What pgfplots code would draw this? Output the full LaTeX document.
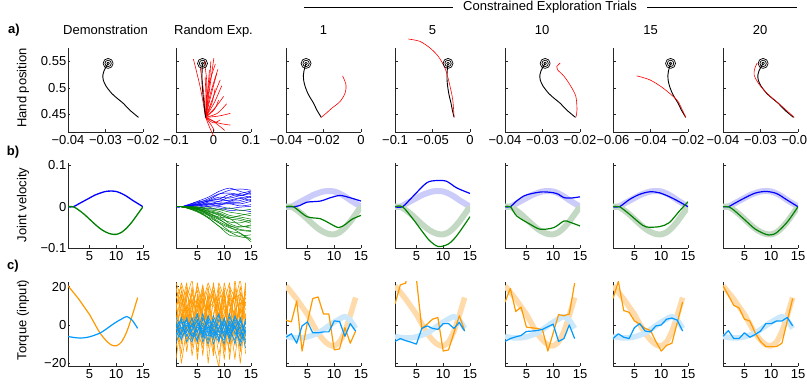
\documentclass[border=0pt]{standalone}
\usepackage{pgfplots}
\pgfplotsset{compat=1.18}
\usepackage{pgfplotstable}
\usepackage{fontspec}
\setmainfont{Liberation Sans}

\definecolor{vblue}{rgb}{0,0,1}
\definecolor{vgreen}{rgb}{0,0.5,0}
\definecolor{lvblue}{rgb}{0.8,0.8,0.98}
\definecolor{lvgreen}{rgb}{0.77,0.85,0.77}
\definecolor{torng}{rgb}{1,0.6,0}
\definecolor{tblue}{rgb}{0,0.6,1}
\definecolor{ltorng}{rgb}{1,0.86,0.67}
\definecolor{ltblue}{rgb}{0.8,0.91,0.98}

\pgfplotstableread{
x y
-0.0212 0.4445
-0.0235 0.4580
-0.0253 0.4711
-0.0270 0.4810
-0.0284 0.4900
-0.0299 0.5038
-0.0306 0.5150
-0.0307 0.5245
-0.0304 0.5320
-0.0299 0.5390
-0.0293 0.5460
}\demotraj

\pgfplotstableread{
t b g
1 0 0
2 0 0
3 0.007 -0.008
4 0.014 -0.018
5 0.021 -0.030
6 0.028 -0.042
7 0.033 -0.053
8 0.037 -0.061
9 0.038 -0.066
10 0.037 -0.067
11 0.032 -0.062
12 0.025 -0.051
13 0.016 -0.036
14 0.008 -0.018
15 0 0
}\demovel

\pgfplotstableread{
t o c
1 20.4 -6.0
2 17.0 -6.5
3 13.5 -6.8
4 9.5 -6.7
5 5.5 -6.2
6 0.5 -5.3
7 -4.3 -4.2
8 -7.8 -2.4
9 -10.3 -0.4
10 -10.9 1.5
11 -8.8 3.1
12 -3.3 4.4
13 5.0 2.4
14 14.3 -1.8
}\demotorque

\pgfplotsset{
  panel/.style={scale only axis, width=75pt, anchor=south west, axis lines=left,
    axis line style={-, line width=0.8pt, black!85},
    tick align=inside, major tick length=2.5pt,
    tick style={line width=0.6pt, black!85},
    scaled ticks=false,
    tick label style={font=\fontsize{13}{15}\selectfont},
    yticklabel style={inner xsep=1.5pt},
    every axis plot/.append style={line join=round}},
  rowa/.style={panel, height=84pt, ymin=0.417, ymax=0.575, ytick={0.45,0.5,0.55}, yticklabels={,,}, clip=false},
  rowb/.style={panel, height=85pt, xmin=1, xmax=15, ymin=-0.1, ymax=0.106, xtick={5,10,15}, xticklabels={5,10,15}, ytick={-0.1,0,0.1}, yticklabels={,,}},
  rowc/.style={panel, height=84pt, xmin=1, xmax=15, ymin=-21.4, ymax=22.4, xtick={5,10,15}, xticklabels={5,10,15}, ytick={-20,0,20}, yticklabels={,,}},
}

\newcommand{\target}{%
 \addplot[only marks, mark=o, mark size=5pt, mark options={line width=0.7pt, black}] coordinates {(-0.0293,0.546)};
 \addplot[only marks, mark=o, mark size=3.2pt, mark options={line width=0.7pt, black}] coordinates {(-0.0293,0.546)};
 \addplot[only marks, mark=o, mark size=1.4pt, mark options={line width=0.6pt, black}] coordinates {(-0.0293,0.546)};
}
\newcommand{\demoA}{\addplot[black, line width=0.9pt, smooth] table {\demotraj};}
\newcommand{\rl}[1]{\addplot[red, line width=0.6pt, smooth] coordinates {#1};}
\newcommand{\bl}[1]{\addplot[vblue, line width=0.5pt, smooth] coordinates {(1,0)(2,0)#1};}
\newcommand{\gl}[1]{\addplot[vgreen, line width=0.5pt, smooth] coordinates {(1,0)(2,0)#1};}
\newcommand{\ol}[1]{\addplot[torng, line width=0.6pt] coordinates {#1};}
\newcommand{\cl}[1]{\addplot[tblue, line width=0.6pt] coordinates {#1};}
\newcommand{\shadeB}{%
 \addplot[lvblue, line width=6pt, smooth] table[x=t,y=b] {\demovel};
 \addplot[lvgreen, line width=6pt, smooth] table[x=t,y=g] {\demovel};}
\newcommand{\shadeC}{%
 \addplot[ltorng, line width=5.5pt, smooth] table[x=t,y=o] {\demotorque};
 \addplot[ltblue, line width=5.5pt, smooth] table[x=t,y=c] {\demotorque};}

\begin{document}
\begin{tikzpicture}[font=\fontsize{13}{15}\selectfont]
\useasboundingbox (0,0) rectangle (807pt,387pt);

% header
\draw[line width=0.6pt] (304pt,379.7pt) -- (453pt,379.7pt);
\draw[line width=0.6pt] (647pt,379.7pt) -- (797pt,379.7pt);
\node[anchor=base] at (550pt,376.3pt) {Constrained Exploration Trials};
\node[anchor=base] at (105.5pt,352.5pt) {Demonstration};
\node[anchor=base] at (213.5pt,352.5pt) {Random Exp.};
\node[anchor=base] at (323.5pt,352.5pt) {1};
\node[anchor=base] at (432.5pt,352.5pt) {5};
\node[anchor=base] at (542pt,352.5pt) {10};
\node[anchor=base] at (650.5pt,352.5pt) {15};
\node[anchor=base] at (760pt,352.5pt) {20};
\node[font=\bfseries\fontsize{13}{15}\selectfont] at (14pt,357pt) {a)};
\node[font=\bfseries\fontsize{13}{15}\selectfont] at (13pt,235pt) {b)};
\node[font=\bfseries\fontsize{13}{15}\selectfont] at (13pt,121pt) {c)};
\node[rotate=90] at (23pt,299pt) {Hand position};
\node[rotate=90] at (23pt,182pt) {Joint velocity};
\node[rotate=90] at (23pt,67pt) {Torque (input)};

% ================= ROW A =================
\begin{axis}[rowa, at={(68pt,255pt)}, xmin=-0.04, xmax=-0.02, xtick={-0.04,-0.03,-0.02}, xticklabels={−0.04,−0.03,−0.02}, yticklabels={0.45,0.5,0.55}]
\target
\demoA
\end{axis}

\begin{axis}[rowa, at={(176pt,255pt)}, xmin=-0.1, xmax=0.1, xtick={-0.1,0,0.1}, xticklabels={−0.1,0,0.1}]
\rl{(-0.021,0.4445)(-0.035,0.50)(-0.0536,0.554)}
\rl{(-0.021,0.4445)(-0.010,0.50)(0.001,0.556)}
\rl{(-0.021,0.4445)(-0.016,0.49)(-0.0107,0.534)}
\rl{(-0.021,0.4445)(-0.006,0.488)(0.009,0.528)}
\rl{(-0.021,0.4445)(-0.001,0.482)(0.018,0.515)}
\rl{(-0.021,0.4445)(0.002,0.472)(0.022,0.504)}
\rl{(-0.021,0.4445)(0.006,0.464)(0.027,0.484)}
\rl{(-0.021,0.4445)(0.014,0.447)(0.045,0.452)}
\rl{(-0.021,0.4445)(0.000,0.434)(0.018,0.440)}
\rl{(-0.021,0.4445)(-0.006,0.430)(0.002,0.420)}
\rl{(-0.021,0.4445)(0.012,0.434)(0.045,0.430)}
\rl{(-0.021,0.4445)(-0.010,0.425)(0.000,0.410)}
\rl{(-0.021,0.4445)(-0.026,0.49)(-0.0357,0.540)}
\rl{(-0.021,0.4445)(-0.020,0.48)(-0.0223,0.521)}
\rl{(-0.021,0.4445)(-0.012,0.50)(-0.0071,0.550)}
\rl{(-0.021,0.4445)(-0.004,0.472)(0.0045,0.499)}
\rl{(-0.021,0.4445)(0.003,0.460)(0.0134,0.477)}
\rl{(-0.021,0.4445)(-0.014,0.50)(0.005,0.545)}
\rl{(-0.021,0.4445)(0.010,0.452)(0.035,0.47)}
\rl{(-0.021,0.4445)(-0.002,0.438)(0.030,0.42)}
\rl{(-0.021,0.4445)(-0.018,0.51)(-0.025,0.552)}
\rl{(-0.021,0.4445)(-0.008,0.49)(0.012,0.535)}
\target
\demoA
\end{axis}

\begin{axis}[rowa, at={(286pt,255pt)}, xmin=-0.04, xmax=0, xtick={-0.04,-0.02,0}, xticklabels={−0.04,−0.02,0}]
\target
\demoA
\rl{(-0.0212,0.4445)(-0.0180,0.4540)(-0.0156,0.4617)(-0.0112,0.4742)(-0.0085,0.4900)(-0.0080,0.5057)(-0.0098,0.5226)}
\end{axis}

\begin{axis}[rowa, at={(395pt,255pt)}, xmin=-0.1, xmax=0, xtick={-0.1,-0.05,0}, xticklabels={−0.1,−0.05,0}]
\target
\demoA
\rl{(-0.0213,0.4458)(-0.0230,0.4774)(-0.0276,0.509)(-0.0333,0.537)(-0.0422,0.559)(-0.0533,0.575)(-0.0667,0.5874)(-0.0822,0.5919)}
\end{axis}

\begin{axis}[rowa, at={(505pt,255pt)}, xmin=-0.04, xmax=-0.02, xtick={-0.04,-0.03,-0.02}, xticklabels={−0.04,−0.03,−0.02}]
\target
\demoA
\rl{(-0.0211,0.4445)(-0.0208,0.4585)(-0.0211,0.4836)(-0.0224,0.5025)(-0.0242,0.5213)(-0.0260,0.534)(-0.0262,0.540)(-0.0253,0.5466)}
\end{axis}

\begin{axis}[rowa, at={(613pt,255pt)}, xmin=-0.06, xmax=-0.02, xtick={-0.06,-0.04,-0.02}, xticklabels={−0.06,−0.04,−0.02}]
\target
\demoA
\rl{(-0.0212,0.4445)(-0.0235,0.462)(-0.0260,0.4774)(-0.0332,0.4994)(-0.0403,0.515)(-0.0474,0.5226)}
\end{axis}

\begin{axis}[rowa, at={(723pt,255pt)}, xmin=-0.04, xmax=-0.02, xtick={-0.04,-0.03,-0.02}, xticklabels={−0.04,−0.03,−0.02}]
\target
\demoA
\rl{(-0.0210,0.4445)(-0.0247,0.4679)(-0.0283,0.490)(-0.0306,0.509)(-0.0317,0.5245)(-0.0315,0.537)(-0.0309,0.5466)}
\end{axis}

% ================= ROW B =================
\begin{axis}[rowb, at={(68pt,139pt)}, yticklabels={−0.1,0,0.1}]
\addplot[vblue, line width=1.3pt, smooth] table[x=t,y=b] {\demovel};
\addplot[vgreen, line width=1.3pt, smooth] table[x=t,y=g] {\demovel};
\end{axis}

\begin{axis}[rowb, at={(176pt,139pt)}]
\bl{(3,0.004)(5,0.012)(7,0.016)(9,0.030)(11,0.040)(13,0.043)(15,0.040)}
\bl{(3,0.002)(5,0.006)(7,0.014)(9,0.018)(11,0.030)(13,0.027)(15,0.036)}
\bl{(3,0.001)(5,0.005)(7,0.006)(9,0.013)(11,0.016)(13,0.022)(15,0.024)}
\bl{(3,0.003)(5,0.010)(7,0.013)(9,0.019)(11,0.014)(13,0.020)(15,0.015)}
\bl{(3,0.000)(5,0.002)(7,0.006)(9,0.008)(11,0.010)(13,0.011)(15,0.018)}
\bl{(3,0.002)(5,0.004)(7,0.001)(9,0.005)(11,0.007)(13,0.002)(15,0.005)}
\bl{(3,-0.001)(5,-0.003)(7,0.001)(9,0.001)(11,-0.004)(13,-0.001)(15,0.001)}
\bl{(3,0.002)(5,0.009)(7,0.019)(9,0.031)(11,0.033)(13,0.029)(15,0.022)}
\bl{(3,0.001)(5,0.003)(7,0.011)(9,0.013)(11,0.024)(13,0.032)(15,0.038)}
\bl{(3,-0.002)(5,-0.005)(7,-0.005)(9,-0.003)(11,-0.009)(13,-0.008)(15,-0.012)}
\bl{(3,0.003)(5,0.013)(7,0.023)(9,0.037)(11,0.045)(13,0.037)(15,0.030)}
\bl{(3,0.000)(5,0.005)(7,0.008)(9,0.003)(11,0.013)(13,0.015)(15,0.026)}
\bl{(3,0.001)(5,-0.001)(7,0.004)(9,0.009)(11,0.008)(13,0.007)(15,0.013)}
\bl{(3,0.002)(5,0.007)(7,0.014)(9,0.023)(11,0.021)(13,0.027)(15,0.032)}
\gl{(3,-0.002)(5,-0.009)(7,-0.019)(9,-0.036)(11,-0.049)(13,-0.064)(15,-0.080)}
\gl{(3,-0.003)(5,-0.013)(7,-0.027)(9,-0.047)(11,-0.069)(13,-0.071)(15,-0.068)}
\gl{(3,-0.001)(5,-0.004)(7,-0.011)(9,-0.017)(11,-0.029)(13,-0.033)(15,-0.040)}
\gl{(3,-0.002)(5,-0.007)(7,-0.015)(9,-0.025)(11,-0.029)(13,-0.045)(15,-0.052)}
\gl{(3,0.000)(5,-0.002)(7,-0.005)(9,-0.007)(11,-0.013)(13,-0.017)(15,-0.022)}
\gl{(3,-0.001)(5,-0.003)(7,-0.001)(9,-0.007)(11,-0.003)(13,-0.009)(15,-0.006)}
\gl{(3,-0.003)(5,-0.011)(7,-0.021)(9,-0.039)(11,-0.051)(13,-0.057)(15,-0.060)}
\gl{(3,-0.002)(5,-0.006)(7,-0.013)(9,-0.021)(11,-0.041)(13,-0.049)(15,-0.046)}
\gl{(3,-0.001)(5,-0.005)(7,-0.015)(9,-0.027)(11,-0.037)(13,-0.039)(15,-0.032)}
\gl{(3,0.001)(5,0.000)(7,-0.007)(9,-0.011)(11,-0.021)(13,-0.025)(15,-0.030)}
\gl{(3,-0.002)(5,-0.010)(7,-0.025)(9,-0.039)(11,-0.059)(13,-0.065)(15,-0.085)}
\gl{(3,-0.001)(5,-0.006)(7,-0.019)(9,-0.031)(11,-0.045)(13,-0.055)(15,-0.058)}
\gl{(3,-0.002)(5,-0.004)(7,-0.009)(9,-0.015)(11,-0.025)(13,-0.029)(15,-0.036)}
\gl{(3,0.000)(5,-0.003)(7,-0.011)(9,-0.019)(11,-0.027)(13,-0.021)(15,-0.016)}
\gl{(3,-0.002)(5,-0.007)(7,-0.017)(9,-0.029)(11,-0.047)(13,-0.049)(15,-0.044)}
\gl{(3,-0.003)(5,-0.011)(7,-0.027)(9,-0.047)(11,-0.061)(13,-0.073)(15,-0.076)}
\end{axis}

\begin{axis}[rowb, at={(286pt,139pt)}]
\shadeB
\addplot[vblue, line width=1.2pt, smooth] coordinates {(1,0)(2.4,0)(3.6,0.003)(4.9,0.011)(7.4,0.0137)(9.25,0.0217)(11.1,0.0273)(13,0.0217)(15,0.0137)};
\addplot[vgreen, line width=1.2pt, smooth] coordinates {(1,0)(2.4,0)(4.9,-0.024)(7.4,-0.029)(8.9,-0.0386)(10.8,-0.0506)(12.1,-0.0426)(13.3,-0.0305)(15,-0.0209)};
\end{axis}

\begin{axis}[rowb, at={(395pt,139pt)}]
\shadeB
\addplot[vblue, line width=1.2pt, smooth] coordinates {(1,0)(2.4,0)(4.4,0.0257)(6.9,0.0578)(8.75,0.0635)(10.6,0.0618)(12.5,0.0458)(15,0.0321)};
\addplot[vgreen, line width=1.2pt, smooth] coordinates {(1,0)(2.4,0)(4.4,-0.0305)(6.25,-0.0627)(7.5,-0.0827)(9.06,-0.0964)(10.9,-0.0908)(12.5,-0.0707)(15,-0.0241)};
\end{axis}

\begin{axis}[rowb, at={(505pt,139pt)}]
\shadeB
\addplot[vblue, line width=1.2pt, smooth] coordinates {(1,0)(2,0)(3,0.012)(4.5,0.026)(6,0.032)(8,0.036)(10,0.034)(11,0.030)(12,0.022)(13.3,0.021)(15,0.024)};
\addplot[vgreen, line width=1.2pt, smooth] coordinates {(1,0)(2,0)(3.2,-0.0225)(5.7,-0.0426)(7.6,-0.0546)(10.1,-0.0506)(12,-0.0345)(13,-0.037)(15,-0.0466)};
\end{axis}

\begin{axis}[rowb, at={(613pt,139pt)}]
\shadeB
\addplot[vblue, line width=1.2pt, smooth] coordinates {(1,0)(2.2,0)(4.1,0.0177)(5.9,0.0297)(7.8,0.0361)(9.7,0.0337)(12.2,0.0201)(15,0)};
\addplot[vgreen, line width=1.2pt, smooth] coordinates {(1,0)(2.2,0)(4.1,-0.0185)(5.9,-0.0386)(7.2,-0.049)(9.7,-0.0482)(11.5,-0.0386)(13.4,-0.0104)(15,0.012)};
\end{axis}

\begin{axis}[rowb, at={(723pt,139pt)}]
\shadeB
\addplot[vblue, line width=1.2pt, smooth] coordinates {(1,0)(2,0)(3,0.007)(5,0.021)(7,0.033)(9,0.037)(11,0.032)(13,0.016)(15,0)};
\addplot[vgreen, line width=1.2pt, smooth] coordinates {(1,0)(2,0)(3,-0.008)(5,-0.031)(7,-0.054)(9,-0.067)(10,-0.068)(11,-0.063)(13,-0.037)(15,0)};
\end{axis}

% ================= ROW C =================
\begin{axis}[rowc, at={(68pt,21pt)}, yticklabels={−20,0,20}]
\addplot[torng, line width=1.2pt, smooth] table[x=t,y=o] {\demotorque};
\addplot[tblue, line width=1.2pt, smooth] table[x=t,y=c] {\demotorque};
\end{axis}

\begin{axis}[rowc, at={(176pt,21pt)}]
\ol{(1,12)(2,-5)(3,18)(4,3)(5,-14)(6,8)(7,20)(8,-2)(9,10)(10,-18)(11,5)(12,15)(13,-6)(14,22)}
\ol{(1,-8)(2,15)(3,2)(4,20)(5,-3)(6,-12)(7,6)(8,18)(9,-10)(10,12)(11,22)(12,-4)(13,9)(14,-15)}
\ol{(1,5)(2,-15)(3,10)(4,-6)(5,16)(6,2)(7,-9)(8,14)(9,4)(10,19)(11,-7)(12,8)(13,-20)(14,6)}
\ol{(1,20)(2,4)(3,-10)(4,12)(5,7)(6,21)(7,-5)(8,3)(9,-16)(10,2)(11,14)(12,-11)(13,17)(14,10)}
\ol{(1,-3)(2,10)(3,22)(4,-8)(5,6)(6,-4)(7,12)(8,-14)(9,18)(10,8)(11,-3)(12,20)(13,4)(14,-8)}
\ol{(1,15)(2,8)(3,-4)(4,14)(5,-18)(6,10)(7,3)(8,22)(9,0)(10,-6)(11,16)(12,2)(13,-12)(14,18)}
\ol{(1,0)(2,18)(3,6)(4,-12)(5,10)(6,16)(7,-20)(8,6)(9,14)(10,-2)(11,-14)(12,12)(13,24)(14,2)}
\ol{(1,10)(2,-10)(3,14)(4,24)(5,0)(6,-6)(7,15)(8,-8)(9,20)(10,10)(11,4)(12,-18)(13,8)(14,14)}
\ol{(1,-12)(2,6)(3,-2)(4,8)(5,20)(6,12)(7,8)(8,16)(9,-4)(10,22)(11,10)(12,6)(13,-2)(14,20)}
\ol{(1,8)(2,22)(3,12)(4,0)(5,14)(6,-10)(7,18)(8,10)(9,6)(10,-12)(11,20)(12,14)(13,16)(14,-4)}
\ol{(1,-18)(2,2)(3,16)(4,10)(5,-6)(6,18)(7,0)(8,-16)(9,12)(10,4)(11,-8)(12,24)(13,2)(14,12)}
\ol{(1,18)(2,12)(3,-14)(4,6)(5,22)(6,4)(7,10)(8,2)(9,-8)(10,16)(11,0)(12,-6)(13,14)(14,8)}
\ol{(1,2)(2,-4)(3,8)(4,16)(5,10)(6,-16)(7,12)(8,20)(9,8)(10,2)(11,18)(12,10)(13,-8)(14,22)}
\ol{(1,14)(2,20)(3,4)(4,-2)(5,12)(6,6)(7,-12)(8,4)(9,22)(10,14)(11,-10)(12,4)(13,20)(14,0)}
\ol{(1,6)(2,-20)(3,-2)(4,18)(5,4)(6,14)(7,2)(8,-10)(9,-22)(10,6)(11,12)(12,-2)(13,10)(14,16)}
\ol{(1,22)(2,14)(3,10)(4,-16)(5,2)(6,20)(7,8)(8,12)(9,16)(10,-4)(11,6)(12,18)(13,-14)(14,4)}
\ol{(1,-6)(2,4)(3,20)(4,12)(5,18)(6,-2)(7,16)(8,-4)(9,2)(10,18)(11,-18)(12,8)(13,12)(14,-10)}
\ol{(1,10)(2,16)(3,-8)(4,2)(5,-10)(6,12)(7,22)(8,14)(9,10)(10,-14)(11,8)(12,16)(13,6)(14,12)}
\cl{(1,-3)(2,2)(3,-6)(4,1)(5,-9)(6,4)(7,-2)(8,-7)(9,3)(10,-5)(11,0)(12,-10)(13,2)(14,-4)}
\cl{(1,0)(2,-5)(3,3)(4,-8)(5,-1)(6,-4)(7,5)(8,-3)(9,-9)(10,1)(11,-6)(12,3)(13,-2)(14,-8)}
\cl{(1,-6)(2,-1)(3,-4)(4,4)(5,-7)(6,0)(7,-8)(8,2)(9,-3)(10,-10)(11,4)(12,-1)(13,-6)(14,3)}
\cl{(1,2)(2,-8)(3,0)(4,-3)(5,3)(6,-9)(7,-1)(8,-5)(9,5)(10,-2)(11,-7)(12,0)(13,-11)(14,-1)}
\cl{(1,-9)(2,-3)(3,4)(4,-6)(5,0)(6,-2)(7,-6)(8,5)(9,-4)(10,2)(11,-3)(12,-8)(13,4)(14,-6)}
\cl{(1,-1)(2,3)(3,-9)(4,-2)(5,5)(6,-6)(7,2)(8,-10)(9,-1)(10,-4)(11,6)(12,-5)(13,-1)(14,-12)}
\cl{(1,-4)(2,-7)(3,-1)(4,3)(5,-4)(6,6)(7,-5)(8,-2)(9,-7)(10,4)(11,-9)(12,2)(13,-5)(14,1)}
\cl{(1,4)(2,-2)(3,-5)(4,-9)(5,1)(6,-3)(7,-10)(8,0)(9,6)(10,-7)(11,1)(12,-4)(13,-8)(14,-3)}
\cl{(1,-7)(2,1)(3,2)(4,-4)(5,-8)(6,3)(7,0)(8,-6)(9,-2)(10,3)(11,-4)(12,5)(13,-3)(14,-9)}
\cl{(1,1)(2,-6)(3,-3)(4,0)(5,6)(6,-7)(7,3)(8,-4)(9,-5)(10,-8)(11,2)(12,-2)(13,3)(14,-5)}
\cl{(1,-5)(2,4)(3,-2)(4,-6)(5,-3)(6,1)(7,-4)(8,3)(9,-8)(10,0)(11,-5)(12,-1)(13,-9)(14,2)}
\cl{(1,-2)(2,-4)(3,1)(4,-1)(5,2)(6,-5)(7,4)(8,-1)(9,0)(10,-6)(11,-2)(12,4)(13,0)(14,-3)}
\end{axis}

\begin{axis}[rowc, at={(286pt,21pt)}]
\shadeC
\addplot[torng, line width=1.2pt] coordinates {(1,2.5)(2,1.6)(3,12.5)(4,-13.6)(5,1.5)(6,13.8)(7,14.6)(8,5.7)(9,5.7)(10,-13)(11,-12.5)(12,-1.4)(13,-9.5)(14,-3.2)};
\addplot[tblue, line width=1.2pt] coordinates {(1,-6.4)(2,-4.6)(3,-9.5)(4,-0.5)(5,1.6)(6,-4.1)(7,-4.1)(8,-3.6)(9,-3.6)(10,2.1)(11,1.8)(12,-5.9)(13,0.7)(14,-3.2)};
\end{axis}

\begin{axis}[rowc, at={(395pt,21pt)}]
\shadeC
\addplot[torng, line width=1.2pt] coordinates {(1,11)(2,20.9)(3,21.8)(4,40)(5,24)(6,-1.8)(7,0.4)(8,3)(9,3.9)(10,-13.6)(11,-13)(12,-4.1)(13,4.8)(14,-2.9)};
\addplot[tblue, line width=1.2pt] coordinates {(1,-8.6)(2,-7.1)(3,-8.2)(4,-9)(5,-10)(6,-1.8)(7,-0.5)(8,-1.8)(9,-2.3)(10,0.7)(11,0.7)(12,-1.8)(13,1.3)(14,-3.2)};
\end{axis}

\begin{axis}[rowc, at={(505pt,21pt)}]
\shadeC
\addplot[torng, line width=1.2pt] coordinates {(1,11.9)(2,19.1)(3,7)(4,9.3)(5,-1.1)(6,-1.5)(7,-1.8)(8,-2.5)(9,-13.6)(10,-4.1)(11,5.4)(12,4.8)(13,5.7)(14,21.8)};
\addplot[tblue, line width=1.2pt] coordinates {(1,-8.6)(2,-7.1)(3,-6.2)(4,-5.5)(5,-3.4)(6,-3.2)(7,-2.9)(8,-2.3)(9,-0.9)(10,0.4)(11,-8.6)(12,-7.1)(13,0)(14,-7.1)};
\end{axis}

\begin{axis}[rowc, at={(613pt,21pt)}]
\shadeC
\addplot[torng, line width=1.2pt] coordinates {(1,13.8)(2,22.7)(3,7.5)(4,6.6)(5,2.1)(6,0.4)(7,-1.8)(8,-2.9)(9,-8.6)(10,-13.6)(11,-10.7)(12,-9.5)(13,1.3)(14,12)};
\addplot[tblue, line width=1.2pt] coordinates {(1,-7.1)(2,-4.6)(3,-6.4)(4,-7.1)(5,-1.4)(6,0.7)(7,-3.2)(8,-3.6)(9,-0.5)(10,0)(11,3)(12,3.6)(13,2.5)(14,-3.2)};
\end{axis}

\begin{axis}[rowc, at={(723pt,21pt)}]
\shadeC
\addplot[torng, line width=1.2pt] coordinates {(1,20.4)(2,15.5)(3,10.2)(4,8.9)(5,3)(6,2.1)(7,-4.1)(8,-8.6)(9,-11.3)(10,-11.3)(11,-11.3)(12,-9.5)(13,2.1)(14,13.8)};
\addplot[tblue, line width=1.2pt] coordinates {(1,-5.9)(2,-2.9)(3,-7.1)(4,-7.1)(5,-4.1)(6,-6.4)(7,-5)(8,-3.2)(9,0.7)(10,0.7)(11,2.1)(12,2.1)(13,3.9)(14,-0.5)};
\end{axis}
\end{tikzpicture}
\end{document}
